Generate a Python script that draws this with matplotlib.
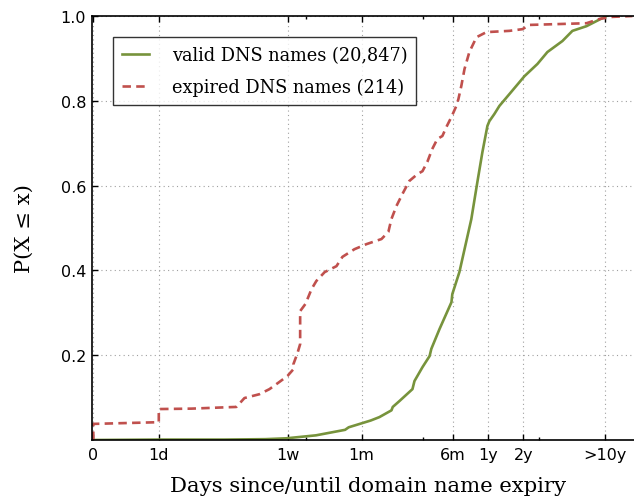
import matplotlib
matplotlib.use("Agg")
import matplotlib.pyplot as plt
from matplotlib.ticker import FixedLocator, NullFormatter

# days since/until expiry -> cumulative fraction
valid_days = [0, 1, 2, 4.5, 6.8, 12.2, 21.7, 23.3, 36.0, 42.7, 54.2, 55.6,
              63.5, 82.0, 85.3, 100, 115, 119, 140, 177, 180, 207, 262, 295,
              326, 360, 374, 413, 456, 556, 747, 966, 1175, 1581, 1926, 2540,
              3093, 3770]
valid_cdf = [0.0, 0.001, 0.001, 0.002, 0.004, 0.011, 0.024, 0.030, 0.046,
             0.054, 0.070, 0.078, 0.092, 0.120, 0.139, 0.172, 0.198, 0.215,
             0.262, 0.325, 0.344, 0.396, 0.521, 0.608, 0.679, 0.741, 0.752,
             0.769, 0.788, 0.816, 0.858, 0.887, 0.915, 0.941, 0.965, 0.976,
             0.988, 1.0]

expired_days = [0, 0, 1.0, 1.0, 1.5, 2.0, 2.54, 2.98, 4.0, 4.88, 5.94, 6.96,
                7.83, 7.83, 8.48, 8.94, 8.94, 9.93, 11.2, 12.3, 14.5, 18.3,
                20.6, 26.1, 33.1, 44.5, 51.0, 54.1, 59.8, 67.2, 77.1, 90.4,
                99.9, 110, 121, 134, 148, 160, 177, 195, 203, 215, 229, 252,
                290, 353, 555, 719, 825, 2540, 3280, 4240, 6290]
expired_cdf = [0.0, 0.038, 0.042, 0.073, 0.074, 0.077, 0.078, 0.099, 0.108,
               0.120, 0.137, 0.151, 0.167, 0.179, 0.205, 0.226, 0.304, 0.321,
               0.356, 0.375, 0.396, 0.410, 0.432, 0.450, 0.462, 0.474, 0.491,
               0.521, 0.552, 0.580, 0.611, 0.627, 0.634, 0.656, 0.686, 0.710,
               0.717, 0.738, 0.762, 0.788, 0.804, 0.835, 0.875, 0.915, 0.950,
               0.962, 0.965, 0.969, 0.979, 0.983, 0.993, 0.998, 1.0]

tick_days = [0, 1, 7, 30, 182.5, 365, 730, 3650]
tick_labels = ['0', '1d', '1w', '1m', '6m', '1y', '2y', '>10y']
minor_days = [10, 100, 1000]
y_ticks = [0.2, 0.4, 0.6, 0.8, 1.0]

labels = ['valid DNS names (20,847)', 'expired DNS names (214)']

fig = plt.figure(figsize=(6.34, 5.02), dpi=100)
ax = fig.add_axes([0.1446, 0.1215, 0.8721, 0.8446])

ax.plot(valid_days, valid_cdf, color='#77933C', lw=1.9, label=labels[0])
ln, = ax.plot(expired_days, expired_cdf, color='#C0504D', lw=1.9,
              ls='--', label=labels[1])
ln.set_dashes([3.2, 2.0])

ax.set_xscale('symlog', linthresh=2, linscale=1.01)
ax.set_xlim(-0.025, 8000)
ax.set_ylim(0, 1)

ax.xaxis.set_major_locator(FixedLocator(tick_days))
ax.set_xticklabels(tick_labels)
ax.xaxis.set_minor_locator(FixedLocator(minor_days))
ax.xaxis.set_minor_formatter(NullFormatter())
ax.set_yticks(y_ticks)
ax.set_yticklabels(['0.2', '0.4', '0.6', '0.8', '1.0'])

ax.tick_params(which='both', direction='in', top=True, right=True,
               labelsize=11.5, width=1)
ax.tick_params(which='major', length=4)
ax.tick_params(which='minor', length=2.5)
ax.tick_params(axis='x', pad=5)
ax.tick_params(axis='y', pad=4)
for s in ax.spines.values():
    s.set_linewidth(1.2)

ax.grid(True, which='major', color='#a0a0a0', ls=(0, (1, 3)), lw=0.8)

ax.set_xlabel('Days since/until domain name expiry', family='DejaVu Serif',
              fontsize=15.2, labelpad=10)
ax.set_ylabel('P(X \u2264 x)', family='DejaVu Serif', fontsize=15.2,
              labelpad=19)

leg = ax.legend(loc='upper left', bbox_to_anchor=(0.038, 0.95),
                borderaxespad=0, prop={'family': 'DejaVu Serif', 'size': 12.75},
                handlelength=1.55, handletextpad=1.28, labelspacing=0.8,
                borderpad=0.5, fancybox=False)
leg.get_frame().set_edgecolor('black')
leg.get_frame().set_linewidth(1.0)

fig.savefig('out.png', dpi=100, facecolor='white')
